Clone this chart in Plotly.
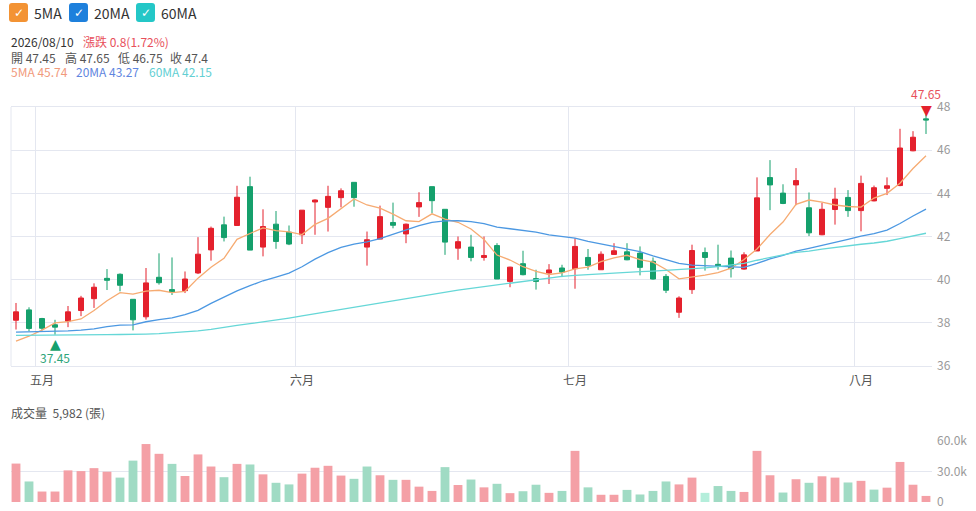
import plotly.graph_objects as go

# K-line data, one entry per trading day (index 0 .. 70), last day 2026/08/10
LAST_DATE = '2026/08/10'
MONTH_LABELS = ['五月', '六月', '七月', '八月']
MONTH_START = [2, 22, 43, 65]  # index of the first trading day in each month

OPENS = [38.12, 38.60, 38.20, 37.91, 38.08, 38.57, 39.12, 40.06, 40.25, 39.09,
	38.28, 40.11, 39.54, 39.49, 40.31, 41.38, 42.54, 42.51, 44.31, 41.51,
	42.57, 42.20, 42.08, 43.60, 43.35, 43.80, 44.51, 41.51, 41.88, 42.65,
	42.12, 43.37, 44.31, 43.26, 41.46, 41.51, 41.03, 41.58, 39.92, 40.74,
	40.05, 40.31, 40.54, 40.51, 41.03, 40.46, 41.17, 41.29, 41.23, 40.85,
	40.15, 38.49, 39.54, 41.26, 40.71, 41.00, 40.49, 41.33, 44.73, 44.01,
	44.39, 43.33, 42.08, 43.25, 43.81, 43.20, 43.65, 44.23, 44.36, 45.97,
	47.45]
HIGHS = [38.92, 38.72, 38.23, 38.14, 38.78, 39.25, 39.83, 40.49, 40.29, 39.09,
	40.54, 41.22, 41.03, 40.38, 41.97, 42.46, 42.92, 44.35, 44.77, 43.26,
	43.18, 42.51, 43.22, 43.72, 44.35, 44.23, 44.51, 42.23, 43.43, 43.57,
	42.60, 44.05, 44.31, 43.26, 42.00, 42.08, 42.00, 41.69, 40.60, 41.34,
	40.46, 40.72, 40.69, 41.92, 41.42, 41.31, 41.69, 41.69, 41.54, 41.03,
	40.26, 39.23, 41.62, 41.49, 41.62, 41.35, 41.27, 44.74, 45.54, 44.42,
	45.17, 44.04, 43.56, 44.26, 44.15, 44.82, 44.36, 44.74, 46.99, 46.88,
	47.65]
LOWS = [37.69, 37.62, 37.65, 37.45, 37.80, 38.31, 38.69, 39.52, 39.46, 37.65,
	38.15, 39.77, 39.29, 39.38, 40.26, 40.88, 41.77, 42.51, 41.37, 41.08,
	41.43, 41.60, 41.65, 42.08, 42.23, 43.35, 43.38, 40.65, 41.88, 42.38,
	41.69, 42.91, 43.08, 41.15, 40.92, 40.85, 40.88, 40.03, 39.65, 40.20,
	39.54, 39.80, 40.12, 39.58, 40.46, 40.46, 41.15, 40.90, 40.20, 40.00,
	39.38, 38.23, 39.34, 40.42, 40.46, 40.10, 40.46, 41.33, 43.22, 43.50,
	43.45, 42.02, 42.06, 42.55, 42.91, 42.24, 43.63, 43.92, 44.33, 45.95,
	46.75]
CLOSES = [38.51, 37.74, 37.75, 37.80, 38.51, 39.15, 39.65, 39.97, 39.74, 38.14,
	39.85, 39.86, 39.43, 40.03, 41.18, 42.38, 41.95, 43.82, 41.37, 42.46,
	41.77, 41.65, 43.22, 43.69, 43.86, 44.12, 43.80, 41.85, 42.92, 42.52,
	42.57, 43.57, 43.66, 41.74, 41.76, 41.03, 41.12, 40.03, 40.58, 40.23,
	39.92, 40.45, 40.35, 41.54, 40.66, 41.18, 41.34, 40.92, 40.57, 40.03,
	39.51, 39.15, 41.35, 41.03, 40.63, 40.51, 41.15, 43.79, 44.39, 43.53,
	44.59, 42.17, 43.26, 43.73, 43.20, 44.46, 44.26, 44.35, 46.10, 46.60,
	47.40]
# volume in 張
VOLUMES = [37800, 20200, 10300, 10300, 31100, 30400, 33300, 29800, 24000, 40700,
	57000, 47400, 37500, 25600, 46800, 34900, 24400, 37500, 36900, 27200,
	18900, 17300, 27900, 33700, 35600, 26000, 22800, 34900, 26300, 21800,
	21800, 15100, 10900, 34300, 16700, 22100, 14400, 17900, 8700, 10600,
	17000, 9000, 10900, 50300, 14400, 7100, 7100, 11900, 7400, 10900,
	20200, 17300, 24000, 9000, 15700, 10900, 9900, 50300, 26300, 9300,
	22400, 18900, 25300, 24000, 19200, 20800, 12200, 14100, 39400, 17000,
	5982]
# day change vs reference price: u = up, d = down, f = flat
VOL_DIR = ['u', 'd', 'u', 'u', 'u', 'u', 'u', 'u', 'd', 'd',
	'u', 'u', 'd', 'u', 'u', 'u', 'd', 'u', 'd', 'u',
	'd', 'd', 'u', 'u', 'u', 'u', 'd', 'd', 'u', 'd',
	'u', 'u', 'u', 'd', 'u', 'd', 'u', 'd', 'u', 'd',
	'd', 'u', 'd', 'u', 'd', 'u', 'u', 'd', 'd', 'd',
	'd', 'u', 'u', 'f', 'd', 'd', 'u', 'u', 'u', 'd',
	'u', 'd', 'u', 'u', 'd', 'u', 'd', 'u', 'u', 'u',
	'u']
MA5 = [37.15, 37.38, 37.66, 38.00, 38.06, 38.18, 38.57, 39.02, 39.40, 39.33,
	39.47, 39.51, 39.40, 39.46, 40.07, 40.58, 40.99, 41.87, 42.14, 42.40,
	42.27, 42.21, 42.09, 42.56, 42.84, 43.31, 43.74, 43.46, 43.31, 43.04,
	42.73, 42.69, 43.05, 42.81, 42.66, 42.35, 41.86, 41.14, 40.91, 40.60,
	40.38, 40.24, 40.31, 40.50, 40.58, 40.84, 41.01, 41.13, 40.93, 40.81,
	40.47, 40.04, 40.12, 40.21, 40.33, 40.53, 40.93, 41.42, 42.09, 42.67,
	43.49, 43.69, 43.59, 43.46, 43.39, 43.36, 43.78, 44.00, 44.47, 45.15,
	45.74]
MA20 = [37.57, 37.58, 37.60, 37.62, 37.63, 37.66, 37.72, 37.82, 37.89, 37.91,
	38.05, 38.15, 38.23, 38.38, 38.58, 38.90, 39.20, 39.48, 39.72, 39.95,
	40.12, 40.30, 40.60, 40.95, 41.25, 41.50, 41.65, 41.75, 41.90, 42.10,
	42.30, 42.50, 42.65, 42.72, 42.73, 42.69, 42.60, 42.43, 42.36, 42.28,
	42.20, 42.08, 42.00, 41.92, 41.77, 41.65, 41.52, 41.40, 41.30, 41.10,
	40.92, 40.75, 40.67, 40.64, 40.62, 40.59, 40.57, 40.75, 40.96, 41.13,
	41.32, 41.45, 41.58, 41.72, 41.87, 42.02, 42.13, 42.30, 42.60, 42.95,
	43.27]
MA60 = [37.42, 37.42, 37.43, 37.43, 37.44, 37.44, 37.45, 37.45, 37.46, 37.46,
	37.48, 37.50, 37.54, 37.58, 37.63, 37.70, 37.80, 37.88, 37.96, 38.04,
	38.12, 38.22, 38.32, 38.42, 38.52, 38.63, 38.74, 38.84, 38.93, 39.02,
	39.12, 39.22, 39.32, 39.42, 39.52, 39.60, 39.68, 39.76, 39.84, 39.92,
	40.00, 40.08, 40.15, 40.20, 40.24, 40.28, 40.31, 40.34, 40.37, 40.40,
	40.43, 40.46, 40.50, 40.55, 40.60, 40.66, 40.75, 40.90, 41.04, 41.15,
	41.26, 41.32, 41.42, 41.50, 41.58, 41.64, 41.70, 41.78, 41.90, 42.02,
	42.15]

UP_RED = '#e4212d'
DOWN_GREEN = '#15a06c'
VOL_COLORS = {'u': '#f4a0a6', 'd': '#a0dbc4', 'f': '#b4eedb'}
MA_SPECS = [('5MA', MA5, '#f6ab72', '#f39334', '#f19a7c'),
	('20MA', MA20, '#4c98e2', '#1e80dc', '#5f86e0'),
	('60MA', MA60, '#66d7d7', '#24c7c7', '#62cfd3')]
GRID = '#e4e7f0'
FONT = 'Noto Sans CJK TC, Noto Sans, sans-serif'

# page is 976x511, figure fills it (body margin removed in the page)
W, H = 976, 511
# plot area in page pixels
PL, PR, PT, PB = 11, 932, 107, 502
PRICE_BOTTOM_PX = 366
VOL_TOP_PX = 441


def px_x(x):
	return (x - PL) / (PR - PL)


def px_y(y):
	return (PB - y) / (PB - PT)


def fmt(v):
	''' 47.40 -> 47.4, 0.80 -> 0.8 '''
	return ('%.2f' % v).rstrip('0').rstrip('.')


def rounded_box(x0, y0, x1, y1, r=3):
	''' Rounded square path (pixel corners) in paper coordinates. '''
	pts = [('M', x0 + r, y0), ('L', x1 - r, y0), ('Q', x1, y0, x1, y0 + r),
		('L', x1, y1 - r), ('Q', x1, y1, x1 - r, y1), ('L', x0 + r, y1),
		('Q', x0, y1, x0, y1 - r), ('L', x0, y0 + r), ('Q', x0, y0, x0 + r, y0)]
	out = ''
	for p in pts:
		nums = p[1:]
		coords = []
		for k in range(0, len(nums), 2):
			coords.append(f'{px_x(nums[k]):.5f},{px_y(nums[k + 1]):.5f}')
		out += p[0] + ' ' + ' '.join(coords) + ' '
	return out + 'Z'


def note(fig, x, y, text, size=12, color='#555', family=FONT, xanchor='left'):
	''' Plain text placed by page pixel. '''
	fig.add_annotation(xref='paper', yref='paper', x=px_x(x), y=px_y(y),
		xanchor=xanchor, yanchor='middle', text=text, showarrow=False,
		font=dict(family=family, size=size, color=color))


def main():
	idx = list(range(len(CLOSES)))
	fig = go.Figure()
	for name, vals, line_color, _, _ in MA_SPECS:
		fig.add_trace(go.Scatter(x=idx, y=vals, mode='lines', name=name,
			line=dict(color=line_color, width=1.3), hoverinfo='skip'))
	fig.add_trace(go.Candlestick(
		x=idx, open=OPENS, high=HIGHS, low=LOWS, close=CLOSES,
		increasing=dict(line=dict(color=UP_RED, width=1), fillcolor=UP_RED),
		decreasing=dict(line=dict(color=DOWN_GREEN, width=1), fillcolor=DOWN_GREEN),
		whiskerwidth=0, name='K'))
	fig.add_trace(go.Bar(x=idx, y=VOLUMES, xaxis='x2', yaxis='y2', width=0.68,
		marker=dict(color=[VOL_COLORS[d] for d in VOL_DIR], line=dict(width=0)),
		name='成交量'))

	price_dom = [px_y(PRICE_BOTTOM_PX), 1]
	vol_dom = [0, px_y(VOL_TOP_PX)]
	xrange = [-5 / 13, -5 / 13 + (PR - PL) / 13]
	tick_font = dict(family=FONT, size=12, color='#9a9a9a')

	fig.update_layout(
		width=W, height=H,
		margin=dict(l=PL, r=W - PR, t=PT, b=H - PB),
		paper_bgcolor='white', plot_bgcolor='white',
		showlegend=False, boxgap=0.45,
		font=dict(family=FONT, size=12, color='#555'),
		xaxis=dict(range=xrange, anchor='y', showgrid=False, zeroline=False,
			tickmode='array', tickvals=MONTH_START, ticktext=MONTH_LABELS,
			ticks='outside', ticklen=4, tickcolor='rgba(0,0,0,0)',
			tickfont=dict(family=FONT, size=12, color='#555'),
			showline=True, mirror=True, linecolor=GRID, linewidth=1,
			rangeslider=dict(visible=False), automargin=False,
			minor=dict(tickmode='array', tickvals=[s - 0.5 for s in MONTH_START],
				showgrid=True, gridcolor=GRID, ticks='')),
		yaxis=dict(domain=price_dom, range=[36, 48], side='right', dtick=2,
			gridcolor=GRID, zeroline=False, tickfont=tick_font,
			ticklabelstandoff=4, automargin=False),
		xaxis2=dict(range=xrange, anchor='y2', matches='x', showgrid=False,
			showticklabels=False, zeroline=False, automargin=False),
		yaxis2=dict(domain=vol_dom, range=[0, 60000], side='right',
			tickvals=[0, 30000, 60000], ticktext=['0', '30.0k', '60.0k'],
			gridcolor=GRID, zeroline=False, tickfont=tick_font,
			ticklabelstandoff=4, automargin=False),
	)
	# left border of the price pane
	fig.add_shape(type='line', xref='x domain', yref='y domain', x0=0, x1=0, y0=0, y1=1,
		line=dict(color=GRID, width=1))

	# MA toggles at the top (checkbox look)
	for (name, _, _, box_color, _), (bx, tx) in zip(MA_SPECS, [(9, 32), (69, 92), (136, 159)]):
		fig.add_shape(type='path', xref='paper', yref='paper', path=rounded_box(bx, 3, bx + 19, 22),
			fillcolor=box_color, line=dict(width=0))
		note(fig, bx + 9.5, 12.5, '<b>✓</b>', size=12, color='white', family='DejaVu Sans',
			xanchor='center')
		note(fig, tx, 13, name, size=14, color='#333')

	# info lines for the last day, each piece at its own spot
	chg = CLOSES[-1] - CLOSES[-2]
	pct = chg / CLOSES[-2] * 100
	note(fig, 9, 41, LAST_DATE, color='#333')
	note(fig, 81, 41, f'漲跌 {fmt(chg)}({pct:.2f}%)', color='#e8505b')
	ohlc = [('開', OPENS[-1]), ('高', HIGHS[-1]), ('低', LOWS[-1]), ('收', CLOSES[-1])]
	for (label, v), x in zip(ohlc, [9, 63, 116, 168]):
		note(fig, x, 57, f'{label} {fmt(v)}', color='#555')
	for (n, v, _, _, c), x in zip(MA_SPECS, [9, 74, 147]):
		note(fig, x, 72, f'{n} {fmt(v[-1])}', color=c)

	# highest high / lowest low markers
	hi_i = HIGHS.index(max(HIGHS))
	lo_i = LOWS.index(min(LOWS))
	fig.add_annotation(x=hi_i, y=HIGHS[hi_i], yanchor='bottom', yshift=-5, text='▼',
		showarrow=False, font=dict(family='DejaVu Sans', size=14, color=UP_RED))
	fig.add_annotation(x=hi_i, y=HIGHS[hi_i], yanchor='bottom', yshift=11, text=fmt(HIGHS[hi_i]),
		showarrow=False, font=dict(family=FONT, size=12, color='#e8505b'))
	fig.add_annotation(x=lo_i, y=LOWS[lo_i], yanchor='top', yshift=1, text='▲',
		showarrow=False, font=dict(family='DejaVu Sans', size=14, color=DOWN_GREEN))
	fig.add_annotation(x=lo_i, y=LOWS[lo_i], yanchor='top', yshift=-12, text=fmt(LOWS[lo_i]),
		showarrow=False, font=dict(family=FONT, size=12, color='#2ea57a'))

	# volume header
	note(fig, 9, 412, f'成交量\u00a0\u00a0{VOLUMES[-1]:,} (張)')

	fig.write_html('out.html', config={'displayModeBar': False},
		post_script="document.body.style.margin='0';")


if __name__ == '__main__':
	main()
